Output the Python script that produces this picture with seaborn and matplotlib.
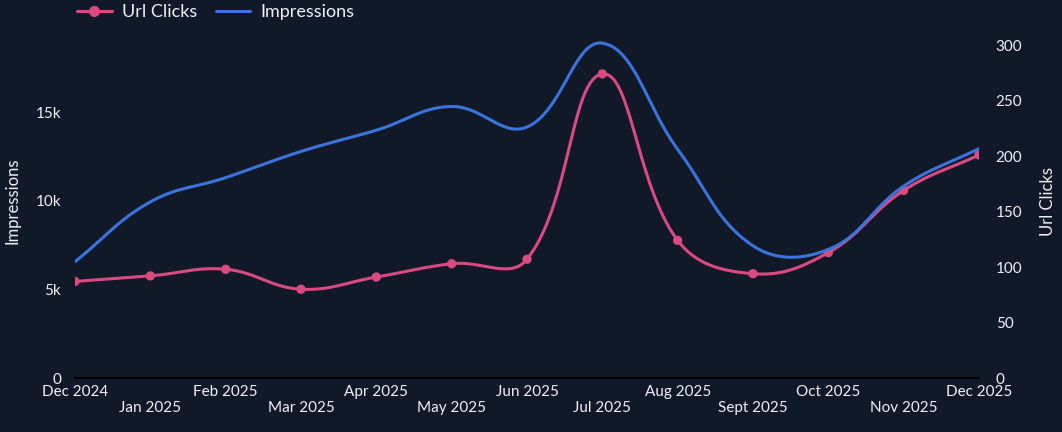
import numpy as np
import pandas as pd
import matplotlib
matplotlib.use("Agg")
import matplotlib.pyplot as plt
from matplotlib.lines import Line2D
from matplotlib.ticker import FuncFormatter
import seaborn as sns

# data
months = ["Dec 2024", "Jan 2025", "Feb 2025", "Mar 2025", "Apr 2025", "May 2025", "Jun 2025",
          "Jul 2025", "Aug 2025", "Sept 2025", "Oct 2025", "Nov 2025", "Dec 2025"]
url_clicks = [87, 92, 98, 80, 91, 103, 107, 274, 124, 94, 113, 169, 201]
impressions = [6570, 9950, 11320, 12800, 14000, 15340, 14180, 18920, 12920, 7470, 7260, 10840, 12960]

BG = "#111827"
PINK = "#d94a80"
BLUE = "#3a73dc"
TXT = "#eef0f4"

sns.set_theme(style="white")
plt.rcParams["font.family"] = ["Lato", "DejaVu Sans"]

fig = plt.figure(figsize=(10.62, 4.32), dpi=100, facecolor=BG)
ax = fig.add_axes([75 / 1062, 54 / 432, 904 / 1062, 354 / 432])
ax2 = ax.twinx()

W_PX, H_PX = 904.0, 354.0
CLICK_MAX, IMP_MAX = 319, 20000


def smooth(yvals, ymax, tension=0.4, n=40):
    # chart.js style bezier smoothing, computed in pixel space
    x = np.arange(len(yvals), dtype=float) * W_PX / (len(yvals) - 1)
    y = np.asarray(yvals, dtype=float) * H_PX / ymax
    p = np.column_stack([x, y])
    cp_in, cp_out = [], []
    for i in range(len(p)):
        prev = p[i - 1] if i > 0 else p[i]
        nxt = p[i + 1] if i < len(p) - 1 else p[i]
        d01 = np.hypot(*(p[i] - prev))
        d12 = np.hypot(*(nxt - p[i]))
        tot = d01 + d12
        s01 = d01 / tot if tot else 0
        s12 = d12 / tot if tot else 0
        cp_in.append(p[i] - tension * s01 * (nxt - prev))
        cp_out.append(p[i] + tension * s12 * (nxt - prev))
    t = np.linspace(0, 1, n)[:, None]
    segs = []
    for i in range(len(p) - 1):
        b = ((1 - t) ** 3 * p[i] + 3 * (1 - t) ** 2 * t * cp_out[i]
             + 3 * (1 - t) * t ** 2 * cp_in[i + 1] + t ** 3 * p[i + 1])
        segs.append(b)
    c = np.vstack(segs)
    return pd.DataFrame({"x": c[:, 0] * (len(yvals) - 1) / W_PX, "y": c[:, 1] * ymax / H_PX})


clicks_curve = smooth(url_clicks, CLICK_MAX)
imp_curve = smooth(impressions, IMP_MAX)
pts = pd.DataFrame({"x": np.arange(len(months)), "clicks": url_clicks})

sns.lineplot(data=clicks_curve, x="x", y="y", ax=ax2, color=PINK, lw=2.2, sort=False, estimator=None)
sns.scatterplot(data=pts, x="x", y="clicks", ax=ax2, color=PINK, s=45, edgecolor="none", zorder=5)
sns.lineplot(data=imp_curve, x="x", y="y", ax=ax, color=BLUE, lw=2.2, sort=False, estimator=None)

ax.set_zorder(2)
ax.patch.set_visible(False)
ax2.set_zorder(1)
ax2.set_facecolor(BG)

ax.set_xlim(0, len(months) - 1)
ax.set_ylim(0, IMP_MAX)
ax2.set_ylim(0, CLICK_MAX)

ax.set_xticks(range(len(months)))
ax.set_xticklabels([m if i % 2 == 0 else "\n" + m for i, m in enumerate(months)])
ax.set_yticks([0, 5000, 10000, 15000])
ax.yaxis.set_major_formatter(FuncFormatter(lambda v, _: "0" if v == 0 else f"{int(v / 1000)}k"))
ax2.set_yticks(range(0, 301, 50))

for a in (ax, ax2):
    for s in a.spines.values():
        s.set_visible(False)
    a.tick_params(colors=TXT, labelsize=11, length=0)
    a.set_xlabel("")
ax.spines["bottom"].set_visible(True)
ax.spines["bottom"].set_color("black")
ax.spines["bottom"].set_linewidth(1.5)
ax.tick_params(axis="x", pad=5)
ax.tick_params(axis="y", pad=10)
ax2.tick_params(axis="y", pad=12)

ax.set_ylabel("Impressions", color=TXT, fontsize=12, labelpad=11)
ax2.set_ylabel("Url Clicks", color=TXT, fontsize=12, rotation=90, labelpad=13)

handles = [Line2D([0], [0], color=PINK, lw=2.2, marker="o", ms=7),
           Line2D([0], [0], color=BLUE, lw=2.2)]
fig.legend(handles, ["Url Clicks", "Impressions"], loc="upper left", bbox_to_anchor=(61 / 1062, 1.028),
           ncol=2, frameon=False, fontsize=13, labelcolor=TXT, handlelength=1.9, columnspacing=1.0,
           handletextpad=0.6)

fig.savefig("out.png", dpi=100, facecolor=BG)
